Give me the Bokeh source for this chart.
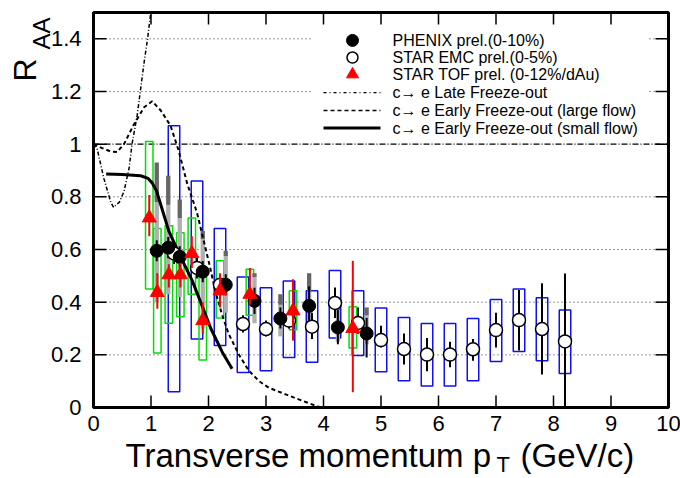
import numpy as np
from bokeh.plotting import figure
from bokeh.models import Range1d
from bokeh.core.properties import value
from bokeh.embed import file_html
from bokeh.resources import INLINE

FONT = "Liberation Sans"

# ---------------- data ----------------
# PHENIX prel. (0-10%)
phx_x = [1.1, 1.3, 1.5, 1.9, 2.3, 2.8, 3.25, 3.75, 4.25, 4.75]
phx_y = [0.595, 0.607, 0.572, 0.516, 0.466, 0.405, 0.338, 0.386, 0.304, 0.281]
phx_stat_lo = [0.555, 0.567, 0.532, 0.476, 0.426, 0.355, 0.30, 0.32, 0.24, 0.19]
phx_stat_hi = [0.635, 0.647, 0.612, 0.556, 0.506, 0.455, 0.38, 0.46, 0.37, 0.34]
phx_sys_lo = [0.40, 0.43, 0.42, 0.30, 0.36, 0.32, 0.27, 0.32, 0.25, 0.24]
phx_sys_hi = [0.78, 0.77, 0.72, 0.64, 0.575, 0.496, 0.39, 0.44, 0.37, 0.35]
phx_sys2_hi = [0.93, 0.88, 0.79, 0.67, 0.595, 0.51, 0.43, 0.51, 0.405, 0.38]

# STAR EMC prel. (0-5%)
emc_x = [1.4, 1.8, 2.2, 2.6, 3.0, 3.4, 3.8, 4.2, 4.6, 5.0, 5.4, 5.8, 6.2, 6.6, 7.0, 7.4, 7.8, 8.2]
emc_y = [0.585, 0.53, 0.466, 0.317, 0.298, 0.33, 0.307, 0.397, 0.321, 0.256, 0.222, 0.201,
         0.201, 0.221, 0.294, 0.332, 0.298, 0.251]
emc_stat_lo = [0.545, 0.49, 0.426, 0.285, 0.27, 0.30, 0.26, 0.34, 0.28, 0.228, 0.163, 0.138,
               0.153, 0.178, 0.228, 0.216, 0.125, 0.0]
emc_stat_hi = [0.625, 0.57, 0.506, 0.35, 0.33, 0.36, 0.36, 0.456, 0.38, 0.31, 0.281, 0.264,
               0.25, 0.26, 0.36, 0.446, 0.472, 0.509]
emc_box_lo = [0.06, 0.26, 0.235, 0.133, 0.14, 0.19, 0.172, 0.264, 0.197, 0.136, 0.102, 0.082,
              0.082, 0.102, 0.175, 0.213, 0.178, 0.129]
emc_box_hi = [1.07, 0.86, 0.68, 0.496, 0.455, 0.48, 0.443, 0.52, 0.443, 0.378, 0.342, 0.319,
              0.319, 0.338, 0.41, 0.45, 0.417, 0.37]

# STAR TOF prel. (0-12%/dAu)
tof_x = [0.97, 1.11, 1.31, 1.51, 1.71, 1.90, 2.20, 2.72, 3.47, 4.51]
tof_y = [0.72, 0.437, 0.504, 0.504, 0.585, 0.33, 0.443, 0.43, 0.367, 0.30]
tof_stat_lo = [0.65, 0.375, 0.456, 0.456, 0.53, 0.28, 0.38, 0.39, 0.254, 0.058]
tof_stat_hi = [0.807, 0.51, 0.544, 0.55, 0.65, 0.40, 0.51, 0.53, 0.487, 0.557]
tof_box_lo = [0.45, 0.207, 0.32, 0.345, 0.43, 0.18, 0.34, 0.35, 0.295, 0.226]
tof_box_hi = [1.01, 0.68, 0.69, 0.664, 0.72, 0.496, 0.557, 0.525, 0.443, 0.383]

# Theory curves
late_x = [0.0, 0.06, 0.18, 0.30, 0.35, 0.45, 0.53, 0.62, 0.67, 0.76, 0.82, 0.88, 0.94, 0.996]
late_y = [1.0, 0.986, 0.87, 0.78, 0.76, 0.78, 0.82, 0.91, 1.0, 1.11, 1.21, 1.31, 1.40, 1.50]

large_x = [0.0, 0.15, 0.30, 0.41, 0.53, 0.70, 0.88, 1.02, 1.17, 1.34, 1.48, 1.63, 1.80, 1.92,
           2.03, 2.12, 2.24, 2.35, 2.53, 2.70, 2.88, 3.05, 3.40, 3.70, 3.95]
large_y = [1.0, 0.985, 0.972, 0.97, 1.0, 1.074, 1.14, 1.163, 1.128, 1.07, 0.976, 0.85, 0.74,
           0.63, 0.53, 0.44, 0.35, 0.28, 0.20, 0.14, 0.10, 0.075, 0.045, 0.02, 0.0]

small_x = [0.22, 0.5, 0.82, 0.95, 1.02, 1.10, 1.17, 1.31, 1.52, 1.72, 1.90, 2.04, 2.24, 2.41]
small_y = [0.887, 0.885, 0.88, 0.87, 0.853, 0.82, 0.77, 0.67, 0.57, 0.48, 0.38, 0.30, 0.21, 0.147]

# axes
x_ticks = [0, 1, 2, 3, 4, 5, 6, 7, 8, 9, 10]
x_tick_labels = ["0", "1", "2", "3", "4", "5", "6", "7", "8", "9", "10"]
y_ticks = [0, 0.2, 0.4, 0.6, 0.8, 1.0, 1.2, 1.4]
y_tick_labels = ["0", "0.2", "0.4", "0.6", "0.8", "1", "1.2", "1.4"]
grid_y = [0.2, 0.4, 0.6, 0.8, 1.2, 1.4]
X_MIN, X_MAX, Y_MIN, Y_MAX = 0.0, 10.0, 0.0, 1.5

# legend
leg_labels = ["PHENIX prel.(0-10%)", "STAR EMC prel.(0-5%)", "STAR TOF prel. (0-12%/dAu)",
              "c\u2192 e Late Freeze-out", "c\u2192 e Early Freeze-out (large flow)",
              "c\u2192 e Early Freeze-out (small flow)"]
leg_y = [1.394, 1.329, 1.265, 1.196, 1.128, 1.061]

# ---------------- geometry (pixels) ----------------
W, H = 680, 478
PX_L, PX_R, PY_T, PY_B = 93.0, 668.0, 12.0, 407.0
sx = (PX_R - PX_L) / (X_MAX - X_MIN)     # px per x unit
sy = (PY_B - PY_T) / (Y_MAX - Y_MIN)     # px per y unit
x_lo = X_MIN - PX_L / sx
x_hi = X_MAX + (W - PX_R) / sx
y_lo = Y_MIN - (H - PY_B) / sy
y_hi = Y_MAX + PY_T / sy


def dx(px):
    return X_MIN + (px - PX_L) / sx


def dy(py):
    return Y_MIN + (PY_B - py) / sy


p = figure(width=W, height=H, x_range=Range1d(x_lo, x_hi), y_range=Range1d(y_lo, y_hi),
           output_backend="svg", toolbar_location=None, x_axis_type=None, y_axis_type=None,
           min_border=0, min_border_left=0, min_border_right=0, min_border_top=0,
           min_border_bottom=0)
p.outline_line_color = None
p.background_fill_color = "white"
p.border_fill_color = "white"

# grid lines
p.segment(x0=X_MIN, x1=X_MAX, y0=grid_y, y1=grid_y, line_color="#333333", line_width=1,
          line_dash="1 3")
p.segment(x0=[X_MIN], x1=[X_MAX], y0=[1.0], y1=[1.0], line_color="black", line_width=1.3,
          line_dash="6 2 1 2")

# systematic boxes
ex = np.array(emc_x)
p.quad(left=ex - 0.1, right=ex + 0.1, bottom=emc_box_lo, top=emc_box_hi,
       fill_alpha=0, line_color="#1010f0", line_width=1.5)
tx = np.array(tof_x)
p.quad(left=tx - 0.065, right=tx + 0.065, bottom=tof_box_lo, top=tof_box_hi,
       fill_alpha=0, line_color="#00e000", line_width=1.5)

# PHENIX systematics
p.vbar(x=phx_x, bottom=phx_sys_lo, top=phx_sys_hi, width=0.075, fill_color="#b0b0b0",
       line_color=None)
p.vbar(x=phx_x, bottom=phx_sys_hi, top=phx_sys2_hi, width=0.075, fill_color="#666666",
       line_color=None)

# theory curves
p.line(late_x, late_y, line_color="black", line_width=1.5, line_dash="4 2 1 2")
p.line(large_x, large_y, line_color="black", line_width=2, line_dash="4 3")
p.line(small_x, small_y, line_color="black", line_width=3)

# stat errors
p.segment(x0=phx_x, x1=phx_x, y0=phx_stat_lo, y1=phx_stat_hi, line_color="black", line_width=2)
p.segment(x0=emc_x, x1=emc_x, y0=emc_stat_lo, y1=emc_stat_hi, line_color="black", line_width=2)

# markers
p.scatter(emc_x, emc_y, marker="circle", size=13, fill_color="white", line_color="black",
          line_width=1.5)
p.scatter(phx_x, phx_y, marker="circle", size=13, fill_color="black", line_color="black")
p.segment(x0=tof_x, x1=tof_x, y0=tof_stat_lo, y1=tof_stat_hi, line_color="#ff0000", line_width=2)
p.scatter(tof_x, tof_y, marker="triangle", size=14, fill_color="#ff0000", line_color="#ff0000")

# ---------------- legend ----------------
p.quad(left=dx(312), right=dx(648), bottom=dy(137), top=dy(28), fill_color="white",
       line_color=None)
mk_x = dx(352)
l0, l1 = dx(323), dx(380)
p.scatter([mk_x], [leg_y[0]], marker="circle", size=12, fill_color="black", line_color="black")
p.scatter([mk_x], [leg_y[1]], marker="circle", size=11, fill_color="white", line_color="black",
          line_width=1.5)
p.scatter([mk_x], [leg_y[2]], marker="triangle", size=12, fill_color="#ff0000",
          line_color="#ff0000")
p.line([l0, l1], [leg_y[3], leg_y[3]], line_color="black", line_width=1.2, line_dash="3 3 1 3")
p.line([l0, l1], [leg_y[4], leg_y[4]], line_color="black", line_width=1.5, line_dash="4 3")
p.line([l0, l1], [leg_y[5], leg_y[5]], line_color="black", line_width=3)
p.text(x=[dx(392)] * len(leg_labels), y=leg_y, text=leg_labels, text_font=value(FONT),
       text_font_size=value("16px"), text_baseline="middle", text_align="left",
       text_color="black")

# ---------------- axes: frame, ticks, labels ----------------
tick_len_x = 12 / sy
tick_len_y = 13 / sx
inner_x = x_ticks[1:-1]
p.segment(x0=inner_x, x1=inner_x, y0=Y_MIN, y1=Y_MIN + tick_len_x, line_color="black",
          line_width=1.5)
p.segment(x0=inner_x, x1=inner_x, y0=Y_MAX, y1=Y_MAX - tick_len_x, line_color="black",
          line_width=1.5)
inner_y = y_ticks[1:]
p.segment(x0=X_MIN, x1=X_MIN + tick_len_y, y0=inner_y, y1=inner_y, line_color="black",
          line_width=1.5)
p.segment(x0=X_MAX, x1=X_MAX - tick_len_y, y0=inner_y, y1=inner_y, line_color="black",
          line_width=1.5)
p.quad(left=[X_MIN], right=[X_MAX], bottom=[Y_MIN], top=[Y_MAX], fill_alpha=0,
       line_color="black", line_width=3)

p.text(x=x_ticks, y=[Y_MIN] * len(x_ticks), text=x_tick_labels, text_font=value(FONT),
       text_font_size=value("22px"), text_align="center", text_baseline="middle", y_offset=16,
       text_color="black")
p.text(x=[X_MIN] * len(y_ticks), y=y_ticks, text=y_tick_labels, text_font=value(FONT),
       text_font_size=value("22px"), text_align="right", text_baseline="middle", x_offset=-12,
       text_color="black")

# axis titles
p.text(x=[dx(125)], y=[dy(455)], text=["Transverse momentum p"], text_font=value(FONT),
       text_font_size=value("33px"), text_baseline="middle", text_align="left",
       text_color="black")
p.text(x=[dx(496)], y=[dy(464)], text=["T"], text_font=value(FONT),
       text_font_size=value("22px"), text_baseline="middle", text_align="left",
       text_color="black")
p.text(x=[dx(520)], y=[dy(455)], text=["(GeV/c)"], text_font=value(FONT),
       text_font_size=value("33px"), text_baseline="middle", text_align="left",
       text_color="black")
p.text(x=[dx(24)], y=[dy(81)], text=["R"], angle=np.pi / 2, text_font=value(FONT),
       text_font_size=value("32px"), text_baseline="middle", text_align="left",
       text_color="black")
p.text(x=[dx(41)], y=[dy(49)], text=["AA"], angle=np.pi / 2, text_font=value(FONT),
       text_font_size=value("24px"), text_baseline="middle", text_align="left",
       text_color="black")

open("out.html", "w").write(file_html(p, INLINE))
